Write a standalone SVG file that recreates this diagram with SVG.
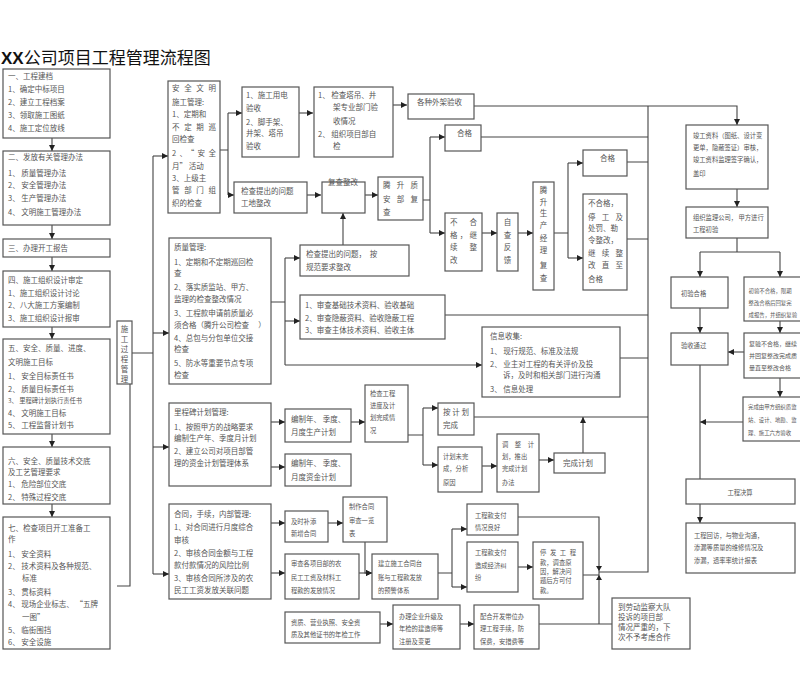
<svg xmlns="http://www.w3.org/2000/svg" width="800" height="684" viewBox="0 0 800 684">
<defs>
<marker id="ar" markerWidth="6" markerHeight="6" refX="6" refY="3" orient="auto" markerUnits="userSpaceOnUse"><path d="M0,0 L6,3 L0,6 z" fill="#222"/></marker>
<style>
.b{fill:#fff;stroke:#555;stroke-width:1.2}
.t{font-family:"Noto Sans CJK SC","Noto Sans",sans-serif;font-size:7.5px;fill:#555}
.s{font-size:6.3px}
.r{font-size:6px}
.q{font-size:5.4px}
.c{fill:none;stroke:#444;stroke-width:1.1}
.a{fill:none;stroke:#444;stroke-width:1.1;marker-end:url(#ar)}
</style>
</defs>
<rect width="800" height="684" fill="#fff"/>
<text x="1" y="64" font-family="'Noto Sans CJK SC',sans-serif" font-size="17" fill="#111"><tspan font-weight="bold" font-family="'Liberation Sans',sans-serif">XX</tspan>公司项目工程管理流程图</text>

<g id="connectors">
<path class="a" d="M52,138 V151"/><path class="a" d="M52,225 V239"/><path class="a" d="M52,257 V271"/><path class="a" d="M52,327 V339"/><path class="a" d="M52,434 V447"/><path class="a" d="M52,504 V517"/>
<path class="c" d="M131,353 H153 M153,156 V574 M130,384 V586 H117"/>
<path class="a" d="M153,156 H168"/><path class="a" d="M153,333 H169"/><path class="a" d="M153,447 H169"/><path class="a" d="M153,574 H169"/>
<path class="c" d="M220,150 H228 M228,113 V195"/>
<path class="a" d="M228,113 H242"/><path class="a" d="M228,195 H234"/>
<path class="a" d="M299,113 H313"/><path class="a" d="M393,105 H407"/>
<path class="a" d="M474,106 H737 V125"/>
<path class="a" d="M307,195 H321"/><path class="a" d="M365,195 H378"/>
<path class="c" d="M423,200 H430 M430,137 V233"/>
<path class="a" d="M430,137 H445"/><path class="a" d="M430,233 H445"/>
<path class="c" d="M481,137 H648"/>
<path class="a" d="M482,233 H497"/><path class="a" d="M518,233 H533"/>
<path class="c" d="M554,233 H568 M568,163 V258"/>
<path class="a" d="M568,163 H583"/><path class="a" d="M568,258 H583"/>
<path class="c" d="M627,162 H648 M627,239 H648 M648,106 V572 H599"/>
<path class="c" d="M271,302 H285 M285,258 V365"/>
<path class="a" d="M285,258 H300"/><path class="a" d="M285,321 H300"/><path class="a" d="M285,365 H482"/>
<path class="a" d="M343,245 V213"/>
<path class="c" d="M445,315 H648 M620,358 H648"/>
<path class="a" d="M271,422 H285"/><path class="a" d="M271,467 H285"/><path class="a" d="M351,422 H365"/>
<path class="c" d="M408,435 H423 M423,408 V465"/>
<path class="a" d="M423,408 H438"/><path class="a" d="M423,465 H438"/>
<path class="c" d="M474,417 H648"/>
<path class="a" d="M583,453 V417"/>
<path class="a" d="M482,466 H497"/><path class="a" d="M539,460 H554"/>
<path class="a" d="M271,523 H285"/><path class="a" d="M271,573 H285"/><path class="a" d="M328,523 H343"/>
<path class="a" d="M365,542 V573 H372"/><path class="a" d="M359,573 H372"/>
<path class="c" d="M438,573 H452 M452,529 V587"/>
<path class="a" d="M452,529 H467"/><path class="a" d="M452,587 H467"/>
<path class="c" d="M518,517 H599 V624 M583,575 H599"/>
<path class="a" d="M518,567 H533"/>
<path d="M596,566 L602,566 L599,571 z M596,580 L602,580 L599,575 z" fill="#222"/>
<path class="a" d="M380,624 H393"/><path class="a" d="M460,624 H474"/>
<path class="c" d="M539,624 H612"/>
<path class="a" d="M737,189 V207"/>
<path class="c" d="M737,238 V252 M700,252 H780"/>
<path class="a" d="M700,252 V277"/><path class="a" d="M780,252 V277"/>
<path class="a" d="M700,308 V333"/><path class="a" d="M780,321 V333"/>
<path class="a" d="M744,352 H728"/><path class="a" d="M780,378 V397"/>
<path class="a" d="M743,422 H700"/>
<path class="c" d="M700,365 V479"/>
<path class="a" d="M700,504 V523"/>
</g>

<g id="n1"><rect class="b" x="3" y="69" width="107" height="69"/>
<text class="t"><tspan x="8" y="79">一、工程建档</tspan><tspan x="8" y="92">1、确定中标项目</tspan><tspan x="8" y="105">2、建立工程档案</tspan><tspan x="8" y="118">3、领取施工图纸</tspan><tspan x="8" y="131">4、施工定位放线</tspan></text></g>
<g id="n2"><rect class="b" x="3" y="151" width="107" height="74"/>
<text class="t"><tspan x="8" y="160">二、发放有关管理办法</tspan><tspan x="8" y="176">1、 质量管理办法</tspan><tspan x="8" y="188">2、 安全管理办法</tspan><tspan x="8" y="201">3、 生产管理办法</tspan><tspan x="8" y="215">4、 文明施工管理办法</tspan></text></g>
<g id="n3"><rect class="b" x="3" y="239" width="107" height="18"/>
<text class="t" x="8" y="251">三、办理开工报告</text></g>
<g id="n4"><rect class="b" x="3" y="271" width="107" height="56"/>
<text class="t"><tspan x="8" y="283">四、施工组织设计审定</tspan><tspan x="8" y="296">1、施工组织设计讨论</tspan><tspan x="8" y="308">2、八大施工方案编制</tspan><tspan x="8" y="321">3、施工组织设计报审</tspan></text></g>
<g id="n5"><rect class="b" x="3" y="339" width="107" height="95"/>
<text class="t"><tspan x="8" y="351">五、安全、质量、进度、</tspan><tspan x="8" y="365">文明施工目标</tspan><tspan x="8" y="379">1、 安全目标责任书</tspan><tspan x="8" y="392">2、 质量目标责任书</tspan><tspan x="8" y="403" class="s">3、 里程碑计划执行责任书</tspan><tspan x="8" y="416">4、 文明施工目标</tspan><tspan x="8" y="428">5、 工程监督计划书</tspan></text></g>
<g id="n6"><rect class="b" x="3" y="447" width="107" height="57"/>
<text class="t"><tspan x="8" y="464">六、安全、质量技术交底</tspan><tspan x="8" y="475">及工艺管理要求</tspan><tspan x="8" y="487">1、 危险部位交底</tspan><tspan x="8" y="500">2、 特殊过程交底</tspan></text></g>
<g id="n7"><rect class="b" x="3" y="517" width="107" height="132"/>
<text class="t"><tspan x="8" y="531">七、检查项目开工准备工</tspan><tspan x="8" y="542">作</tspan><tspan x="8" y="557">1、 安全资料</tspan><tspan x="8" y="569">2、 技术资料及各种规范、</tspan><tspan x="22" y="581">标准</tspan><tspan x="8" y="595">3、 贯标资料</tspan><tspan x="8" y="607">4、 现场企业标志、 “五牌</tspan><tspan x="22" y="620">一图”</tspan><tspan x="8" y="633">5、 临街围挡</tspan><tspan x="8" y="645">6、 安全设施</tspan></text></g>
<g id="n8"><rect class="b" x="117" y="321" width="15" height="63"/>
<text class="t" font-size="7" text-anchor="middle"><tspan x="124.5" y="332">施</tspan><tspan x="124.5" y="342">工</tspan><tspan x="124.5" y="352">过</tspan><tspan x="124.5" y="362">程</tspan><tspan x="124.5" y="372">管</tspan><tspan x="124.5" y="382">理</tspan></text></g>

<g id="n9"><rect class="b" x="168" y="81" width="52" height="132"/>
<text class="t"><tspan x="172" y="91" textLength="44">安全文明</tspan><tspan x="172" y="105">施工管理:</tspan><tspan x="172" y="117">1、定期和</tspan><tspan x="172" y="130" textLength="44">不定期巡</tspan><tspan x="172" y="142">回检查</tspan><tspan x="172" y="156" textLength="44">2、“安全</tspan><tspan x="172" y="169">月” 活动</tspan><tspan x="172" y="181">3、上级主</tspan><tspan x="172" y="193" textLength="44">管部门组</tspan><tspan x="172" y="206">织的检查</tspan></text></g>
<g id="n10"><rect class="b" x="242" y="87" width="57" height="70"/>
<text class="t"><tspan x="246" y="98">1、施工用电</tspan><tspan x="246" y="111">验收</tspan><tspan x="246" y="125">2、脚手架、</tspan><tspan x="246" y="136">井架、塔吊</tspan><tspan x="246" y="149">验收</tspan></text></g>
<g id="n11"><rect class="b" x="314" y="87" width="79" height="70"/>
<text class="t"><tspan x="318" y="98">1、 检查塔吊、井</tspan><tspan x="333" y="110">架专业部门验</tspan><tspan x="333" y="124">收情况</tspan><tspan x="318" y="137">2、 组织项目部自</tspan><tspan x="333" y="149">检</tspan></text></g>
<g id="n12"><rect class="b" x="408" y="94" width="66" height="25"/>
<text class="t" x="417" y="105">各种外架验收</text></g>
<g id="n13"><rect class="b" x="234" y="182" width="73" height="31"/>
<text class="t"><tspan x="241" y="194">检查提出的问题</tspan><tspan x="241" y="206">工地整改</tspan></text></g>
<g id="n14"><rect class="b" x="322" y="182" width="43" height="31"/>
<text class="t" x="343" y="185" text-anchor="middle">复查整改</text></g>
<g id="n15"><rect class="b" x="378" y="177" width="45" height="43"/>
<text class="t"><tspan x="383" y="188" textLength="35">腾升质</tspan><tspan x="383" y="202" textLength="35">安部复</tspan><tspan x="383" y="215">查</tspan></text></g>
<g id="n16"><rect class="b" x="445" y="125" width="36" height="26"/>
<text class="t" x="457" y="136">合格</text></g>
<g id="n17"><rect class="b" x="445" y="213" width="37" height="58"/>
<text class="t"><tspan x="450" y="225" textLength="27">不合</tspan><tspan x="450" y="238" textLength="27">格，继</tspan><tspan x="450" y="250" textLength="27">续整</tspan><tspan x="450" y="263">改</tspan></text></g>
<g id="n18"><rect class="b" x="497" y="213" width="21" height="58"/>
<text class="t" text-anchor="middle"><tspan x="507.5" y="225">自</tspan><tspan x="507.5" y="238">查</tspan><tspan x="507.5" y="250">反</tspan><tspan x="507.5" y="263">馈</tspan></text></g>
<g id="n19"><rect class="b" x="533" y="182" width="21" height="108"/>
<text class="t" text-anchor="middle"><tspan x="543.5" y="193">腾</tspan><tspan x="543.5" y="205">升</tspan><tspan x="543.5" y="216">生</tspan><tspan x="543.5" y="228">产</tspan><tspan x="543.5" y="241">经</tspan><tspan x="543.5" y="253">理</tspan><tspan x="543.5" y="268">复</tspan><tspan x="543.5" y="281">查</tspan></text></g>
<g id="n20"><rect class="b" x="583" y="150" width="44" height="26"/>
<text class="t" x="600" y="161">合格</text></g>
<g id="n21"><rect class="b" x="583" y="194" width="44" height="96"/>
<text class="t"><tspan x="588" y="206">不合格，</tspan><tspan x="588" y="220" textLength="35">停工及</tspan><tspan x="588" y="231">处罚、勒</tspan><tspan x="588" y="243">令整改，</tspan><tspan x="588" y="256" textLength="35">继续整</tspan><tspan x="588" y="268" textLength="35">改直至</tspan><tspan x="588" y="282">合格</tspan></text></g>

<g id="n22"><rect class="b" x="169" y="238" width="102" height="146"/>
<text class="t"><tspan x="174" y="250">质量管理:</tspan><tspan x="174" y="265">1、定期和不定期巡回检</tspan><tspan x="174" y="276">查</tspan><tspan x="174" y="290">2、落实质监站、甲方、</tspan><tspan x="174" y="302">监理的检查整改情况</tspan><tspan x="174" y="316">3、工程款申请前质量必</tspan><tspan x="174" y="328">须合格（腾升公司检查　 ）</tspan><tspan x="174" y="341">4、总包与分包单位交接</tspan><tspan x="174" y="352">检查</tspan><tspan x="174" y="366">5、防水等重要节点专项</tspan><tspan x="174" y="378">检查</tspan></text></g>
<g id="n23"><rect class="b" x="300" y="245" width="109" height="31"/>
<text class="t"><tspan x="306" y="257">检查提出的问题，　按</tspan><tspan x="306" y="270">规范要求整改</tspan></text></g>
<g id="n24"><rect class="b" x="300" y="295" width="145" height="44"/>
<text class="t"><tspan x="305" y="308">1、审查基础技术资料、验收基础</tspan><tspan x="305" y="321">2、审查隐蔽资料、验收隐蔽工程</tspan><tspan x="305" y="333">3、审查主体技术资料、验收主体</tspan></text></g>
<g id="n25"><rect class="b" x="482" y="327" width="138" height="70"/>
<text class="t"><tspan x="490" y="339">信息收集:</tspan><tspan x="490" y="354">1、 现行规范、标准及法规</tspan><tspan x="490" y="367">2、 业主对工程的有关评价及投</tspan><tspan x="503" y="378">诉，及时和相关部门进行沟通</tspan><tspan x="490" y="392">3、 信息处理</tspan></text></g>

<g id="n26"><rect class="b" x="169" y="403" width="102" height="83"/>
<text class="t"><tspan x="174" y="415">里程碑计划管理:</tspan><tspan x="174" y="430">1、按照甲方的战略要求</tspan><tspan x="174" y="441">编制生产年、季度月计划</tspan><tspan x="174" y="454">2、建立公司对项目部管</tspan><tspan x="174" y="466">理的资金计划管理体系</tspan></text></g>
<g id="n27"><rect class="b" x="285" y="409" width="66" height="33"/>
<text class="t"><tspan x="291" y="422">编制年、 季度、</tspan><tspan x="291" y="435">月度生产计划</tspan></text></g>
<g id="n28"><rect class="b" x="285" y="454" width="66" height="32"/>
<text class="t"><tspan x="291" y="466">编制年、 季度、</tspan><tspan x="291" y="480">月度资金计划</tspan></text></g>
<g id="n29"><rect class="b" x="365" y="385" width="43" height="57"/>
<text class="t s"><tspan x="370" y="396">检查工程</tspan><tspan x="370" y="408">进度及计</tspan><tspan x="370" y="420">划完成情</tspan><tspan x="370" y="433">况</tspan></text></g>
<g id="n30"><rect class="b" x="438" y="403" width="36" height="32"/>
<text class="t"><tspan x="443" y="415" textLength="26">按计划</tspan><tspan x="443" y="428">完成</tspan></text></g>
<g id="n31"><rect class="b" x="438" y="447" width="44" height="45"/>
<text class="t s"><tspan x="443" y="459">计划未完</tspan><tspan x="443" y="471">成，分析</tspan><tspan x="443" y="485">原因</tspan></text></g>
<g id="n32"><rect class="b" x="497" y="434" width="42" height="58"/>
<text class="t s"><tspan x="502" y="447" textLength="32">调整计</tspan><tspan x="502" y="459">划，推出</tspan><tspan x="502" y="471">完成计划</tspan><tspan x="502" y="485">办法</tspan></text></g>
<g id="n33"><rect class="b" x="554" y="453" width="51" height="20"/>
<text class="t" x="563" y="466">完成计划</text></g>

<g id="n34"><rect class="b" x="169" y="504" width="102" height="95"/>
<text class="t"><tspan x="174" y="517">合同，手续，内部管理:</tspan><tspan x="174" y="530">1、对合同进行月度综合</tspan><tspan x="174" y="543">审核</tspan><tspan x="174" y="556">2、审核合同金额与工程</tspan><tspan x="174" y="568">款付款情况的风险比例</tspan><tspan x="174" y="581">3、审核合同所涉及的农</tspan><tspan x="174" y="593">民工工资发放关联问题</tspan></text></g>
<g id="n35"><rect class="b" x="285" y="511" width="43" height="31"/>
<text class="t s"><tspan x="291" y="524">及时补添</tspan><tspan x="291" y="536">新增合同</tspan></text></g>
<g id="n36"><rect class="b" x="343" y="497" width="44" height="45"/>
<text class="t s"><tspan x="349" y="509">制作合同</tspan><tspan x="349" y="523">审查一览</tspan><tspan x="349" y="536">表</tspan></text></g>
<g id="n37"><rect class="b" x="285" y="554" width="74" height="45"/>
<text class="t s"><tspan x="291" y="566">审查各项目部的农</tspan><tspan x="291" y="580">民工工资及材料工</tspan><tspan x="291" y="593">程款的发放情况</tspan></text></g>
<g id="n38"><rect class="b" x="372" y="554" width="66" height="45"/>
<text class="t s"><tspan x="378" y="566">建立施工合同台</tspan><tspan x="378" y="580">账与工程款发放</tspan><tspan x="378" y="593">的预警体系</tspan></text></g>
<g id="n39"><rect class="b" x="467" y="504" width="51" height="31"/>
<text class="t s"><tspan x="475" y="518">工程款支付</tspan><tspan x="475" y="530">情况良好</tspan></text></g>
<g id="n40"><rect class="b" x="467" y="542" width="51" height="50"/>
<text class="t s"><tspan x="475" y="555">工程款支付</tspan><tspan x="475" y="568">造成经济纠</tspan><tspan x="475" y="580">纷</tspan></text></g>
<g id="n41"><rect class="b" x="533" y="542" width="50" height="57"/>
<text class="t s"><tspan x="540" y="555" textLength="36">停发工程</tspan><tspan x="540" y="565">款，调查原</tspan><tspan x="540" y="574">因，解决问</tspan><tspan x="540" y="583">题后方可付</tspan><tspan x="540" y="593">款。</tspan></text></g>
<g id="n42"><rect class="b" x="285" y="612" width="95" height="31"/>
<text class="t s"><tspan x="291" y="625">资质、营业执照、安全资</tspan><tspan x="291" y="637">质及其他证书的年检工作</tspan></text></g>
<g id="n43"><rect class="b" x="393" y="605" width="67" height="44"/>
<text class="t s"><tspan x="399" y="619">办理企业升级及</tspan><tspan x="399" y="631">年检的建造师等</tspan><tspan x="399" y="644">注册及变更</tspan></text></g>
<g id="n44"><rect class="b" x="474" y="605" width="65" height="44"/>
<text class="t s"><tspan x="480" y="619">配合开发带位办</tspan><tspan x="480" y="631">理工程手续，防</tspan><tspan x="480" y="644">保费，安措费等</tspan></text></g>
<g id="n45"><rect class="b" x="612" y="598" width="78" height="51"/>
<text class="t" font-size="6"><tspan x="618" y="610">到劳动监察大队</tspan><tspan x="618" y="620">投诉的项目部</tspan><tspan x="618" y="630">情况严重的，下</tspan><tspan x="618" y="640">次不予考虑合作</tspan></text></g>

<g id="n46"><rect class="b" x="686" y="125" width="82" height="64"/>
<text class="t s"><tspan x="693" y="138">竣工资料（图纸、设计变</tspan><tspan x="693" y="150">更单，隐蔽签证）审核，</tspan><tspan x="693" y="162">竣工资料监理签字确认，</tspan><tspan x="693" y="176">盖印</tspan></text></g>
<g id="n47"><rect class="b" x="686" y="207" width="82" height="31"/>
<text class="t s"><tspan x="693" y="220">组织监理公司， 甲方进行</tspan><tspan x="693" y="232">工程初验</tspan></text></g>
<g id="n48"><rect class="b" x="671" y="277" width="57" height="31"/>
<text class="t s" x="681" y="296">初验合格</text></g>
<g id="n49"><rect class="b" x="671" y="333" width="57" height="32"/>
<text class="t s" x="681" y="348">验收通过</text></g>
<g id="n50"><rect class="b" x="744" y="277" width="80" height="44"/>
<text class="t q"><tspan x="748.5" y="293">初验不合格，限期</tspan><tspan x="748.5" y="305">整改合格后回复完</tspan><tspan x="748.5" y="317">成报告，并组织复验</tspan></text></g>
<g id="n51"><rect class="b" x="744" y="333" width="80" height="45"/>
<text class="t r"><tspan x="749" y="346">复验不合格，继续</tspan><tspan x="749" y="358">并回复整改完成质</tspan><tspan x="749" y="370">量直至整改合格</tspan></text></g>
<g id="n52"><rect class="b" x="743" y="397" width="80" height="44"/>
<text class="t q"><tspan x="748" y="409">完成由甲方组织质监</tspan><tspan x="748" y="422">站、设计、地勘、监</tspan><tspan x="748" y="435">理、施工六方验收</tspan></text></g>
<g id="n53"><rect class="b" x="686" y="479" width="109" height="25"/>
<text class="t s" x="740" y="495" text-anchor="middle">工程决算</text></g>
<g id="n54"><rect class="b" x="686" y="523" width="109" height="50"/>
<text class="t s"><tspan x="694" y="538">工程回访，与物业沟通，</tspan><tspan x="694" y="550">渗漏等质量的维修情况及</tspan><tspan x="694" y="563">渗漏，透率率统计报表</tspan></text></g>
</svg>
